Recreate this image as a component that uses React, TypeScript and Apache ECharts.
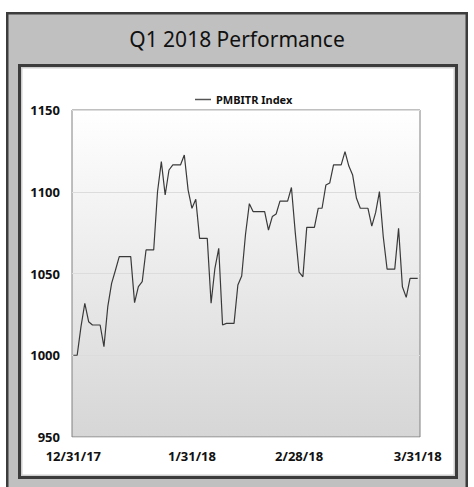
import React, { useEffect, useRef } from "react";
import * as echarts from "echarts";

// Daily index values, 12/31/17 (day 0) through 3/31/18 (day 90)
const values: number[] = [
  1000, 1000, 1017.5, 1031.8, 1020.5, 1018.5, 1018.5, 1018.5, 1005.3, 1029.7,
  1044, 1052, 1060.3, 1060.3, 1060.3, 1060.3, 1032.2, 1042, 1045, 1064.4,
  1064.4, 1064.4, 1100, 1118.4, 1098, 1113.3, 1116.4, 1116.4, 1116.4, 1122.5,
  1101, 1089.9, 1095.4, 1071.5, 1071.5, 1071.5, 1031.8, 1053.2, 1065.4, 1018.5,
  1019.5, 1019.5, 1019.5, 1043, 1048.5, 1074, 1092.7, 1087.8, 1087.8, 1087.8,
  1087.8, 1076.6, 1084.8, 1086.4, 1094.3, 1094.3, 1094.3, 1102.6, 1075, 1050.8,
  1048, 1078.2, 1078.2, 1078.2, 1089.9, 1089.9, 1104.1, 1105.3, 1116.4, 1116.4,
  1116.4, 1124.5, 1115.7, 1110.2, 1096, 1089.9, 1089.9, 1089.9, 1079, 1087.2,
  1100.1, 1072.5, 1052.7, 1052.7, 1052.7, 1077.6, 1041.9, 1035.4, 1047, 1047,
  1047,
];

const tickDays: number[] = [0, 31, 59, 90];
const tickLabels: string[] = ["12/31/17", "1/31/18", "2/28/18", "3/31/18"];

const seriesName = "PMBITR Index";
const titleText = "Q1 2018 Performance";

export default function App() {
  const ref = useRef<HTMLDivElement>(null);

  useEffect(() => {
    if (!ref.current) return;
    const chart = echarts.init(ref.current, undefined, { renderer: "svg" });
    const data = values.map((v, i) => [i, v]);
    const font = "Noto Sans";
    chart.setOption({
      animation: false,
      title: {
        text: titleText,
        left: "center",
        top: 28,
        padding: 0,
        textStyle: { fontFamily: font, fontSize: 21, fontWeight: "normal", color: "#111" },
      },
      legend: {
        top: 89,
        left: 190,
        itemWidth: 16,
        itemHeight: 1.5,
        itemGap: 5,
        icon: "rect",
        data: [seriesName],
        itemStyle: { color: "#555" },
        textStyle: { fontFamily: font, fontSize: 11, fontWeight: "bold", color: "#111", padding: [0, 0, 0, 0] },
      },
      graphic: [
        {
          type: "rect",
          z: -10,
          silent: true,
          shape: { x: 7.25, y: 13.25, width: 459.5, height: 490 },
          style: { fill: "#c0c0c0", stroke: "#3c3c3c", lineWidth: 2.5 },
        },
        {
          type: "rect",
          z: -9,
          silent: true,
          shape: { x: 19.5, y: 65.5, width: 437, height: 412 },
          style: { fill: "#ffffff", stroke: "#3c3c3c", lineWidth: 3 },
        },
        {
          type: "rect",
          z: -8,
          silent: true,
          shape: { x: 21.75, y: 67.75, width: 432.5, height: 407.5 },
          style: { fill: "none", stroke: "#cfcfcf", lineWidth: 1.5 },
        },
      ],
      grid: {
        left: 72,
        top: 110,
        right: 54,
        bottom: 50,
        show: true,
        borderColor: "#808080",
        borderWidth: 1,
        backgroundColor: new echarts.graphic.LinearGradient(0, 0, 0, 1, [
          { offset: 0, color: "#ffffff" },
          { offset: 1, color: "#d6d6d6" },
        ]),
      },
      xAxis: {
        type: "value",
        min: -0.35,
        max: 90.6,
        axisLine: { show: false },
        axisTick: { show: false },
        splitLine: { show: false },
        axisLabel: {
          customValues: tickDays,
          margin: 12,
          fontFamily: font,
          fontSize: 13,
          fontWeight: "bold",
          color: "#111",
          formatter: (v: number) => {
            const idx = tickDays.indexOf(Math.round(v));
            return idx >= 0 ? tickLabels[idx] : "";
          },
        },
      },
      yAxis: {
        type: "value",
        min: 950,
        max: 1150,
        interval: 50,
        axisLine: { show: false },
        axisTick: { show: false },
        splitLine: { show: true, lineStyle: { color: "#dcdcdc", width: 1 } },
        axisLabel: {
          margin: 12,
          fontFamily: font,
          fontSize: 13,
          fontWeight: "bold",
          color: "#111",
          formatter: (v: number) => String(v),
        },
      },
      series: [
        {
          name: seriesName,
          type: "line",
          data,
          symbol: "none",
          showSymbol: false,
          lineStyle: { color: "#3a3a3a", width: 1.2 },
          itemStyle: { color: "#3a3a3a" },
        },
      ],
    });
    return () => chart.dispose();
  }, []);

  return (
    <div
      ref={ref}
      style={{ position: "absolute", left: 0, top: 0, width: 474, height: 487 }}
    />
  );
}
